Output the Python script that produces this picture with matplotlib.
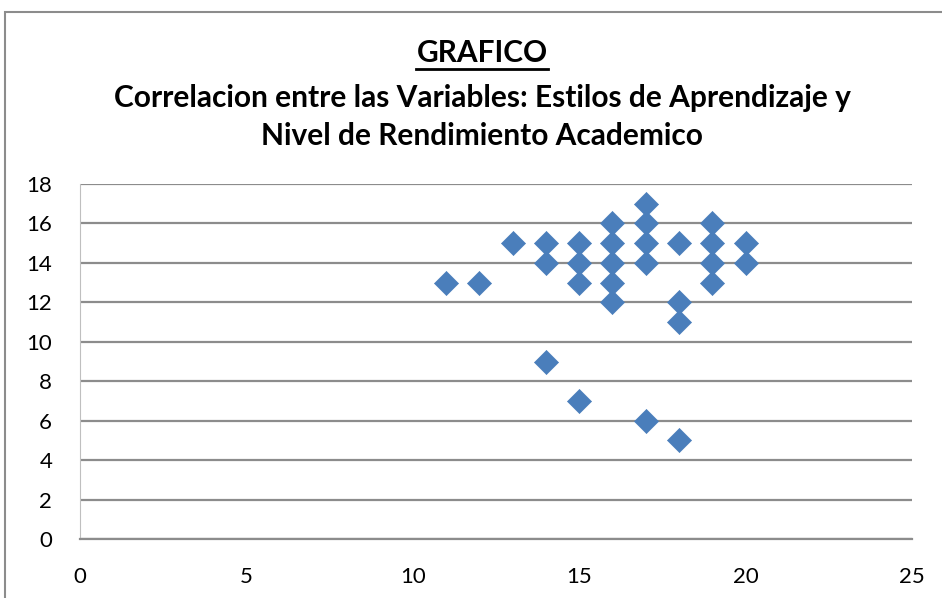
import matplotlib
matplotlib.use('Agg')
import matplotlib.pyplot as plt
from matplotlib.lines import Line2D
from matplotlib.patches import Rectangle

# Estilos de aprendizaje (x) vs rendimiento academico (y)
estilos = [11, 12, 13, 14, 14, 14, 15, 15, 15, 15,
           16, 16, 16, 16, 16, 17, 17, 17, 17, 17,
           18, 18, 18, 18, 19, 19, 19, 19, 20, 20]
rendimiento = [13, 13, 15, 15, 14, 9, 15, 14, 13, 7,
               16, 15, 14, 13, 12, 17, 16, 15, 14, 6,
               15, 12, 11, 5, 16, 15, 14, 13, 15, 14]
x_ticks = [0, 5, 10, 15, 20, 25]
y_ticks = [0, 2, 4, 6, 8, 10, 12, 14, 16, 18]

plt.rcParams['font.family'] = ['Lato', 'DejaVu Sans']

fig = plt.figure(figsize=(9.42, 5.98), dpi=100)
ax = fig.add_axes([80/942, 1 - 539/598, 832/942, 355/598])

ax.scatter(estilos, rendimiento, marker='D', s=150, c='#4a7ebb',
           edgecolors='#4a7ebb', linewidths=0.5, zorder=3)

ax.set_xlim(0, 25)
ax.set_ylim(0, 18)
ax.set_xticks(x_ticks)
ax.set_yticks(y_ticks)
ax.tick_params(length=0, labelsize=16, pad=20, colors='black')
ax.yaxis.grid(True, color='#8c8c8c', linewidth=1.6)
ax.set_axisbelow(True)
for side in ['top', 'right']:
    ax.spines[side].set_visible(False)
ax.spines['left'].set_color('#bfbfbf')
ax.spines['bottom'].set_color('#8c8c8c')
ax.spines['bottom'].set_linewidth(1.6)

# marco del grafico
fig.patches.append(Rectangle((5/942, -0.2), 1.2, 1.2 - 12/598,
                             transform=fig.transFigure, fill=False,
                             edgecolor='#8c8c8c', linewidth=1.5))

cx = 482/942
t1 = fig.text(cx, 1 - 53/598, 'GRAFICO', ha='center', va='center',
              fontsize=21.5, fontweight='bold')
fig.text(cx, 1 - 98/598, 'Correlacion entre las Variables: Estilos de Aprendizaje y',
         ha='center', va='center', fontsize=21.5, fontweight='bold')
fig.text(cx, 1 - 136/598, 'Nivel de Rendimiento Academico',
         ha='center', va='center', fontsize=21.5, fontweight='bold')

# subrayado de GRAFICO
fig.canvas.draw()
bb = t1.get_window_extent().transformed(fig.transFigure.inverted())
fig.add_artist(Line2D([bb.x0, bb.x1], [1 - 69/598, 1 - 69/598],
                      transform=fig.transFigure, color='black', linewidth=2))

fig.savefig('out.png', dpi=100)
